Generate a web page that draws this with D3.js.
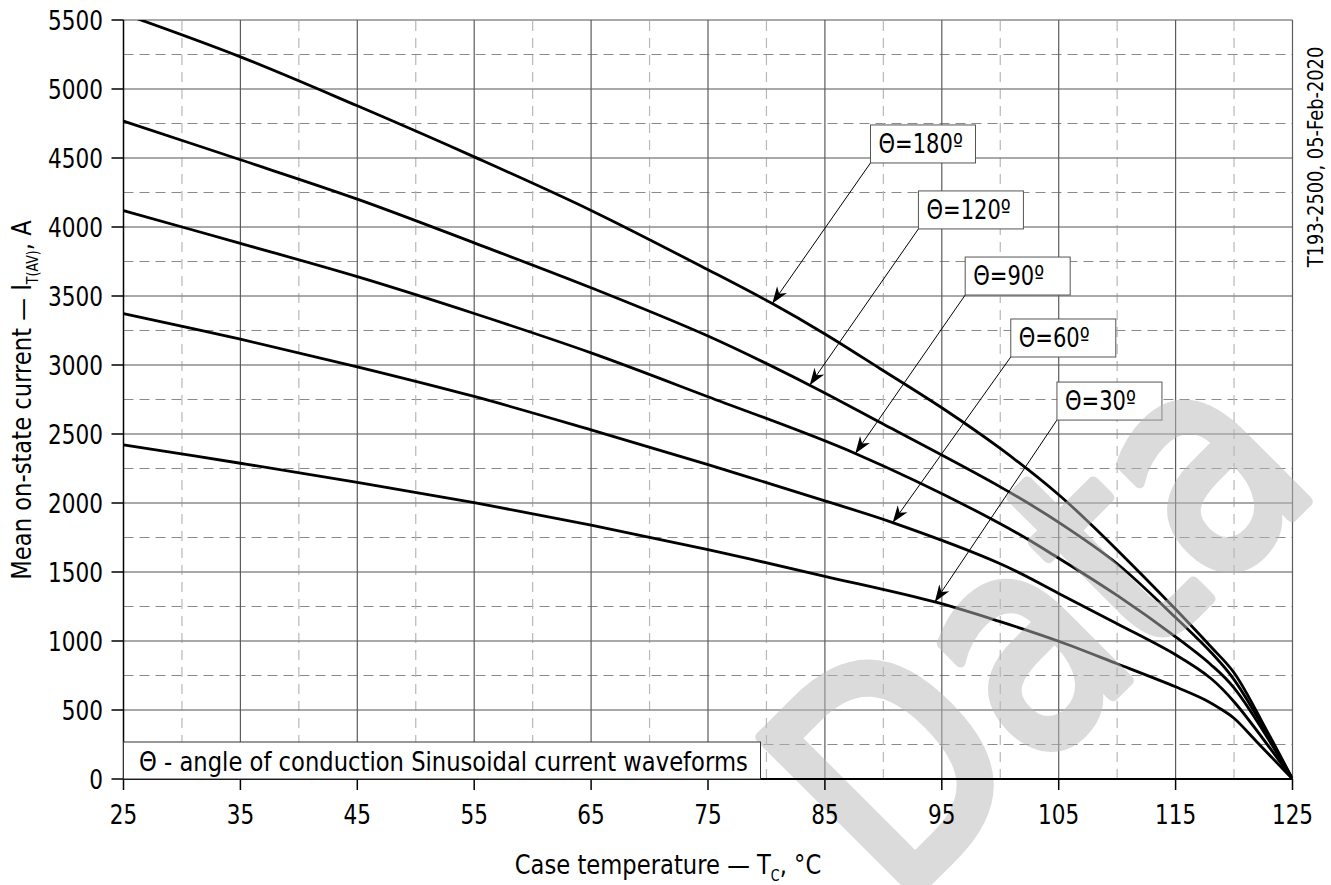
<!DOCTYPE html>
<html>
<head>
<meta charset="utf-8">
<script src="https://cdn.jsdelivr.net/npm/d3@7"></script>
<style>
  html, body { margin: 0; padding: 0; background: #fff; }
  svg { display: block; }
  text { font-family: "DejaVu Sans", Verdana, sans-serif; fill: #000; }
</style>
</head>
<body>
<svg id="chart" width="1331" height="885"></svg>
<script>
// Case temperature (°C) and mean on-state current (A) for each conduction angle
const temps180 = [25, 35, 45, 55, 65, 75, 80.5, 85, 89.7, 95, 100, 105, 107.7, 110, 115, 118, 120, 122.8, 125];
const amps180  = [5545, 5233, 4878, 4508, 4120, 3690, 3445, 3225, 2975, 2690, 2395, 2060, 1850, 1660, 1230, 960, 770, 351, 0];

const temps120 = [25, 35, 45, 55, 65, 75, 83.7, 89.7, 100, 105, 110, 115, 118, 120, 125];
const amps120  = [4767, 4487, 4202, 3885, 3560, 3210, 2854, 2585, 2117, 1860, 1560, 1170, 920, 720, 0];

const temps90 = [25, 35, 45, 55, 65, 75, 87.6, 100, 105, 110, 115, 118, 120, 125];
const amps90  = [4119, 3881, 3640, 3373, 3088, 2770, 2359, 1850, 1600, 1330, 1030, 830, 660, 0];

const temps60 = [25, 35, 45, 55, 65, 75, 85, 90.8, 100, 105, 110, 115, 118, 120, 125];
const amps60  = [3373, 3187, 2987, 2772, 2530, 2278, 2015, 1858, 1560, 1345, 1125, 900, 730, 560, 0];

const temps30 = [25, 35, 45, 55, 65, 75, 85, 94.4, 100, 105, 110, 115, 117.5, 119, 120, 122, 124, 125];
const amps30  = [2422, 2288, 2150, 2003, 1840, 1662, 1469, 1283, 1140, 998, 835, 668, 575, 500, 440, 265, 88, 0];

// Conduction angle labels: text, arrow target temperature, box corner (temperature, current)
const angleLabels   = ["Θ=180º", "Θ=120º", "Θ=90º", "Θ=60º", "Θ=30º"];
const arrowTemps    = [80.5, 83.7, 87.6, 90.8, 94.4];
const boxCornerT    = [88.9, 93.0, 97.0, 100.9, 104.85];
const boxCornerA    = [4464, 3986, 3507, 3058, 2601];

const xTicks = [25, 35, 45, 55, 65, 75, 85, 95, 105, 115, 125];
const yTicks = [0, 500, 1000, 1500, 2000, 2500, 3000, 3500, 4000, 4500, 5000, 5500];

const series = [
  { t: temps180, a: amps180 },
  { t: temps120, a: amps120 },
  { t: temps90,  a: amps90  },
  { t: temps60,  a: amps60  },
  { t: temps30,  a: amps30  }
];

const svg = d3.select("#chart");
const x = d3.scaleLinear().domain([25, 125]).range([123.5, 1292.5]);
const y = d3.scaleLinear().domain([0, 5500]).range([779, 20]);
const SX = 0.84; // horizontal squeeze of glyphs

function label(g, px, py, str, o = {}) {
  const t = g.append("text")
    .attr("transform", `translate(${px},${py}) rotate(${o.rot || 0}) scale(${o.sx || SX},1)`)
    .attr("text-anchor", o.anchor || "start")
    .attr("font-size", o.size || 27);
  if (typeof str === "string") t.text(str);
  else str.forEach(p => {
    const s = t.append("tspan").text(p.s);
    if (p.sub) s.attr("font-size", p.sub).attr("dy", p.dy);
    if (p.back) s.attr("dy", p.back);
  });
  return t;
}

svg.append("defs").append("clipPath").attr("id", "plotclip")
  .append("rect").attr("x", x(25)).attr("y", y(5500)).attr("width", x(125) - x(25)).attr("height", y(0) - y(5500));

// grid
const grid = svg.append("g");
d3.range(250, 5500, 500).forEach(v => grid.append("line")
  .attr("x1", x(25)).attr("x2", x(125)).attr("y1", y(v)).attr("y2", y(v))
  .attr("stroke", "#8a8a8a").attr("stroke-width", 1).attr("stroke-dasharray", "10,6"));
d3.range(30, 125, 10).forEach(v => grid.append("line")
  .attr("x1", x(v)).attr("x2", x(v)).attr("y1", y(0)).attr("y2", y(5500))
  .attr("stroke", "#b8b8b8").attr("stroke-width", 1.2).attr("stroke-dasharray", "10,7"));
yTicks.filter(v => v > 0).forEach(v => grid.append("line")
  .attr("x1", x(25)).attr("x2", x(125)).attr("y1", y(v)).attr("y2", y(v))
  .attr("stroke", "#8c8c8c").attr("stroke-width", 1.5));
xTicks.filter(v => v > 25).forEach(v => grid.append("line")
  .attr("x1", x(v)).attr("x2", x(v)).attr("y1", y(0)).attr("y2", y(5500))
  .attr("stroke", "#5c5c5c").attr("stroke-width", 1.2));

// curves
const line = d3.line().x(d => x(d[0])).y(d => y(d[1])).curve(d3.curveCatmullRom.alpha(0.5));
const curves = svg.append("g").attr("clip-path", "url(#plotclip)");
series.forEach(s => curves.append("path")
  .attr("d", line(s.t.map((t, i) => [t, s.a[i]])))
  .attr("fill", "none").attr("stroke", "#000").attr("stroke-width", 2.8));

// arrows and angle boxes
svg.select("defs").append("marker").attr("id", "arrowhead")
  .attr("markerUnits", "userSpaceOnUse").attr("markerWidth", 20).attr("markerHeight", 14)
  .attr("viewBox", "-18 -7 20 14").attr("refX", 0).attr("refY", 0).attr("orient", "auto")
  .append("path").attr("d", "M0,0 L-17,-6 L-12,0 L-17,6 Z").attr("fill", "#000");

function curveValue(s, t) {
  return d3.scaleLinear().domain(s.t).range(s.a)(t);
}
const ann = svg.append("g");
angleLabels.forEach((txt, i) => {
  const cx = x(boxCornerT[i]), cy = y(boxCornerA[i]);
  const tx = x(arrowTemps[i]), ty = y(curveValue(series[i], arrowTemps[i]));
  ann.append("line").attr("x1", cx).attr("y1", cy).attr("x2", tx).attr("y2", ty)
    .attr("stroke", "#000").attr("stroke-width", 1).attr("marker-end", "url(#arrowhead)");
  ann.append("rect").attr("x", cx).attr("y", cy - 38).attr("width", 105).attr("height", 38)
    .attr("fill", "#fff").attr("stroke", "#555").attr("stroke-width", 1);
  label(ann, cx + 8, cy - 10, txt, { sx: 0.78 });
});

// watermark
label(svg, 898, 910, "Data", { rot: -45, size: 300, sx: 0.84 })
  .attr("opacity", 0.5)
  .style("fill", "#b9b9b9").style("stroke", "#b9b9b9")
  .attr("stroke-width", 12).attr("stroke-linejoin", "round");

// axes
const axes = svg.append("g");
axes.append("line").attr("x1", x(25)).attr("x2", x(25)).attr("y1", y(0)).attr("y2", y(5500))
  .attr("stroke", "#000").attr("stroke-width", 1.5);
axes.append("line").attr("x1", x(25)).attr("x2", x(125)).attr("y1", y(0)).attr("y2", y(0))
  .attr("stroke", "#000").attr("stroke-width", 2);
yTicks.forEach(v => {
  axes.append("line").attr("x1", x(25) - 12).attr("x2", x(25)).attr("y1", y(v)).attr("y2", y(v))
    .attr("stroke", "#000").attr("stroke-width", 1.5);
  label(axes, 103, y(v) + 10, String(v), { anchor: "end", sx: 0.8 });
});
xTicks.forEach(v => {
  axes.append("line").attr("x1", x(v)).attr("x2", x(v)).attr("y1", y(0)).attr("y2", y(0) + 11)
    .attr("stroke", "#000").attr("stroke-width", 1.5);
  label(axes, x(v), 824, String(v), { anchor: "middle", sx: 0.8 });
});

// legend note
const note = svg.append("g");
note.append("rect").attr("x", x(25)).attr("y", 742).attr("width", 637).attr("height", y(0) - 742)
  .attr("fill", "#fff").attr("stroke", "#333").attr("stroke-width", 1);
label(note, 139, 771, "Θ - angle of conduction Sinusoidal current waveforms");

// axis titles
label(svg, 668, 874, [
  { s: "Case temperature — T" }, { s: "C", sub: 15, dy: 7 }, { s: ", °C", back: -7 }
], { anchor: "middle" });
label(svg, 31, 400, [
  { s: "Mean on-state current — I" }, { s: "T(AV)", sub: 15, dy: 7 }, { s: ", A", back: -7 }
], { anchor: "middle", rot: -90 });
label(svg, 1323, 157, "T193-2500, 05-Feb-2020", { anchor: "middle", rot: -90, size: 21, sx: 0.85 });
</script>
</body>
</html>
